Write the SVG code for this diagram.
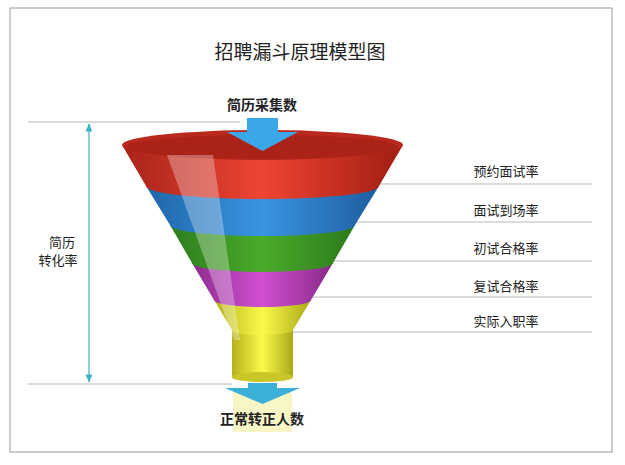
<svg xmlns="http://www.w3.org/2000/svg" width="625" height="465" viewBox="0 0 625 465">
<style>
.t{font-family:"Noto Sans CJK SC","Liberation Sans",sans-serif;fill:#222}
.ln{stroke:#b8b8b8;stroke-width:1;fill:none}
</style>
<defs>
<linearGradient id="r" x1="0" x2="1"><stop offset="0" stop-color="#a8231a"/><stop offset="0.5" stop-color="#ee4433"/><stop offset="1" stop-color="#a01d12"/></linearGradient>
<linearGradient id="b" x1="0" x2="1"><stop offset="0" stop-color="#1f66a8"/><stop offset="0.5" stop-color="#3a94e2"/><stop offset="1" stop-color="#1d5d9e"/></linearGradient>
<linearGradient id="g" x1="0" x2="1"><stop offset="0" stop-color="#2d7d1e"/><stop offset="0.5" stop-color="#4aab2a"/><stop offset="1" stop-color="#2c7a1c"/></linearGradient>
<linearGradient id="m" x1="0" x2="1"><stop offset="0" stop-color="#8d2c8f"/><stop offset="0.5" stop-color="#d24fd2"/><stop offset="1" stop-color="#862a88"/></linearGradient>
<linearGradient id="y" x1="0" x2="1"><stop offset="0" stop-color="#b5b21c"/><stop offset="0.5" stop-color="#fafa4a"/><stop offset="1" stop-color="#aaa818"/></linearGradient>
<marker id="ah" viewBox="0 0 10 10" refX="9" refY="5" markerWidth="7" markerHeight="7" orient="auto-start-reverse"><path d="M0,1 L10,5 L0,9 z" fill="#3bb3c3"/></marker>
</defs>
<rect x="10" y="8" width="602" height="444" fill="#fff" stroke="#999"/>
<text class="t" x="300" y="59" font-size="19" text-anchor="middle">招聘漏斗原理模型图</text>
<g id="connectors">
<line class="ln" x1="28" y1="122" x2="240" y2="122"/>
<line class="ln" x1="28" y1="384" x2="232" y2="384"/>
<line class="ln" x1="376" y1="184" x2="592" y2="184"/>
<line class="ln" x1="354" y1="222" x2="592" y2="222"/>
<line class="ln" x1="333" y1="261" x2="592" y2="261"/>
<line class="ln" x1="311" y1="297" x2="592" y2="297"/>
<line class="ln" x1="293" y1="332" x2="592" y2="332"/>
<line x1="89" y1="124" x2="89" y2="382" stroke="#3bb3c3" stroke-width="1.2" marker-start="url(#ah)" marker-end="url(#ah)"/>
</g>
<g id="funnel">
<path d="M232,330 L293,330 L293,377 A30.5,5 0 0 1 232,377 Z" fill="url(#y)"/>
<ellipse cx="262.5" cy="377" rx="30.5" ry="5" fill="#c9c62a"/>
<path d="M214,300 L311,300 L293,330 A30.5,5 0 0 1 232,330 Z" fill="url(#y)"/>
<path d="M192,263 L333,263 L311,300 A48.5,7 0 0 1 214,300 Z" fill="url(#m)"/>
<path d="M170,225 L355,225 L333,263 A70.5,9 0 0 1 192,263 Z" fill="url(#g)"/>
<path d="M146,186 L379,186 L355,225 A92.5,11 0 0 1 170,225 Z" fill="url(#b)"/>
<path d="M122,145 L403,145 L379,186 A116.5,13 0 0 1 146,186 Z" fill="url(#r)"/>
<ellipse cx="262.5" cy="145" rx="140.5" ry="15" fill="#b8281c"/>
<ellipse cx="262.5" cy="147" rx="136" ry="12" fill="#a22015" opacity="0.6"/>
<path d="M167,155 L213,155 L240,340 L234,340 Z" fill="#fff" opacity="0.3"/>
</g>
<g id="in-arrow"><path d="M247,118 L278,118 L278,132 L298,132 L262.5,151 L227,132 L247,132 Z" fill="#3aa8e8"/></g>
<g id="out-arrow"><rect x="233" y="392" width="59" height="40" fill="#f5f0a0" opacity="0.6"/><path d="M248,383 L277,383 L277,388 L300,388 L262.5,404 L225,388 L248,388 Z" fill="#3cb0d8"/></g>
<text class="t" x="262" y="110" font-size="14" font-weight="bold" text-anchor="middle">简历采集数</text>
<text class="t" x="262" y="424" font-size="14" font-weight="bold" text-anchor="middle">正常转正人数</text>
<g id="labels" class="t" font-size="13" text-anchor="middle">
<text x="506" y="176">预约面试率</text>
<text x="506" y="215">面试到场率</text>
<text x="506" y="253">初试合格率</text>
<text x="506" y="291">复试合格率</text>
<text x="506" y="326">实际入职率</text>
<text x="62" y="247">简历</text>
<text x="58" y="265">转化率</text>
</g>
</svg>
